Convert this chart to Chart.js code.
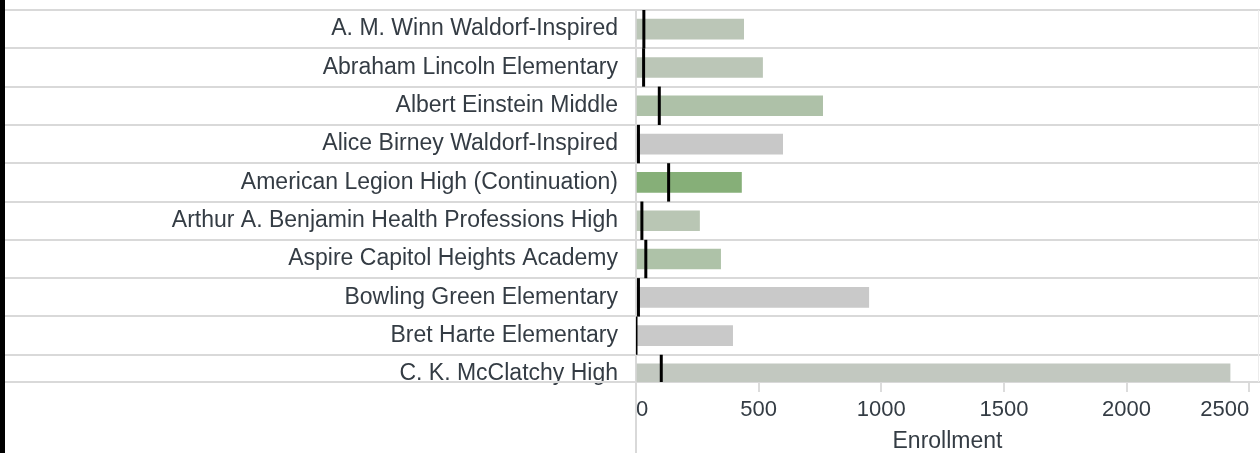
<!DOCTYPE html>
<html>
<head>
<meta charset="utf-8">
<script src="https://cdn.jsdelivr.net/npm/chart.js@4/dist/chart.umd.min.js"></script>
<style>
  html, body { margin: 0; padding: 0; background: #fff; }
  #wrap { position: relative; width: 1260px; height: 453px; }
  #edge { position: absolute; left: 0; top: 0; width: 5px; height: 453px; background: #000; }
</style>
</head>
<body>
<div id="wrap">
  <canvas id="chart" width="1260" height="453"></canvas>
  <div id="edge"></div>
</div>
<script>
  var schools = [
    'A. M. Winn Waldorf-Inspired',
    'Abraham Lincoln Elementary',
    'Albert Einstein Middle',
    'Alice Birney Waldorf-Inspired',
    'American Legion High (Continuation)',
    'Arthur A. Benjamin Health Professions High',
    'Aspire Capitol Heights Academy',
    'Bowling Green Elementary',
    'Bret Harte Elementary',
    'C. K. McClatchy High'
  ];
  var enrollment = [439, 516, 761, 598, 430, 259, 345, 949, 394, 2422];
  var markerValues = [32, 31, 95, 10, 133, 24, 40, 10, 0, 103];
  var barColors = ['#bbc6b7', '#bbc6b7', '#aec1a8', '#c8c8c8', '#86af78',
                   '#b9c6b4', '#aec2a8', '#c9c9c9', '#c9c9c9', '#c2c8c0'];
  var xTicks = [0, 500, 1000, 1500, 2000, 2500];

  var textColor = '#343c44';

  // row separators across the whole width, zero line down to the bottom
  var rowLines = {
    id: 'rowLines',
    beforeDatasetsDraw: function (chart) {
      var ctx = chart.ctx;
      var x = chart.scales.x;
      var y = chart.scales.y;
      var area = chart.chartArea;
      ctx.save();
      ctx.strokeStyle = '#d9d9d9';
      ctx.lineWidth = 2;
      for (var i = 0; i <= schools.length; i++) {
        var py = Math.round(y.getPixelForValue(Math.min(i - 0.5, y.max)));
        ctx.beginPath();
        ctx.moveTo(5, py);
        ctx.lineTo(chart.width, py);
        ctx.stroke();
      }
      var px = Math.round(x.getPixelForValue(0));
      ctx.beginPath();
      ctx.moveTo(px, area.top);
      ctx.lineTo(px, chart.height);
      ctx.stroke();
      ctx.strokeStyle = '#ececec';
      ctx.lineWidth = 1;
      ctx.beginPath();
      ctx.moveTo(area.right - 0.5, area.top);
      ctx.lineTo(area.right - 0.5, area.bottom);
      ctx.stroke();
      ctx.restore();
    }
  };

  var ctx = document.getElementById('chart').getContext('2d');
  var chart = new Chart(ctx, {
    type: 'bar',
    data: {
      datasets: [{
        type: 'scatter',
        label: 'marker',
        data: markerValues.map(function (v, i) { return { x: v, y: i }; }),
        pointStyle: 'line',
        rotation: 90,
        pointRadius: 19.2,
        borderWidth: 3,
        borderColor: '#000',
        backgroundColor: '#000',
        clip: 0,
        order: 0
      }, {
        type: 'bar',
        label: 'Enrollment',
        data: enrollment.map(function (v, i) { return { x: v, y: i }; }),
        backgroundColor: barColors,
        barThickness: 20,
        clip: 0,
        order: 1
      }]
    },
    options: {
      indexAxis: 'y',
      responsive: false,
      devicePixelRatio: 1,
      animation: false,
      events: [],
      layout: { autoPadding: false, padding: { top: 10, right: 1, bottom: 0, left: 0 } },
      plugins: {
        legend: { display: false },
        tooltip: { enabled: false }
      },
      scales: {
        x: {
          type: 'linear',
          position: 'bottom',
          offset: false,
          min: 0,
          max: 2540,
          afterBuildTicks: function (scale) {
            scale.ticks = xTicks.map(function (v) { return { value: v }; });
          },
          afterFit: function (scale) {
            scale.height = 71;
            scale.paddingLeft = 0;
            scale.paddingRight = 0;
          },
          grid: {
            drawOnChartArea: false,
            drawTicks: true,
            tickLength: 10,
            color: '#dcdcdc',
            lineWidth: 2
          },
          border: { display: false },
          ticks: {
            align: 'inner',
            padding: 5,
            maxRotation: 0,
            color: textColor,
            font: { family: 'Liberation Sans', size: 22 },
            callback: function (v) { return String(v); }
          },
          title: {
            display: true,
            text: 'Enrollment',
            color: textColor,
            font: { family: 'Liberation Sans', size: 23, lineHeight: 1 },
            padding: { top: 0, bottom: 0 }
          }
        },
        y: {
          type: 'linear',
          offset: false,
          reverse: true,
          min: -0.5,
          max: 9.21,
          afterBuildTicks: function (scale) {
            scale.ticks = schools.map(function (s, i) { return { value: i }; });
          },
          afterFit: function (scale) {
            scale.width = 636;
            scale.paddingTop = 0;
            scale.paddingBottom = 0;
          },
          grid: { display: false },
          border: { display: false },
          ticks: {
            padding: 10,
            autoSkip: false,
            color: textColor,
            font: { family: 'Liberation Sans', size: 23 },
            callback: function (v) { return schools[v]; }
          }
        }
      }
    },
    plugins: [rowLines]
  });
</script>
</body>
</html>
